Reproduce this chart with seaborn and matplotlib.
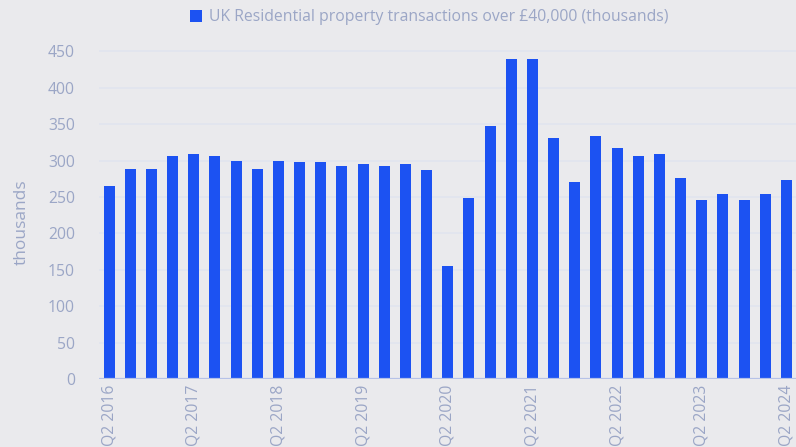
import matplotlib
matplotlib.use("Agg")
import matplotlib.pyplot as plt
import seaborn as sns

quarters = [
    "Q2 2016", "Q3 2016", "Q4 2016", "Q1 2017",
    "Q2 2017", "Q3 2017", "Q4 2017", "Q1 2018",
    "Q2 2018", "Q3 2018", "Q4 2018", "Q1 2019",
    "Q2 2019", "Q3 2019", "Q4 2019", "Q1 2020",
    "Q2 2020", "Q3 2020", "Q4 2020", "Q1 2021",
    "Q2 2021", "Q3 2021", "Q4 2021", "Q1 2022",
    "Q2 2022", "Q3 2022", "Q4 2022", "Q1 2023",
    "Q2 2023", "Q3 2023", "Q4 2023", "Q1 2024",
    "Q2 2024",
]
transactions = [
    265, 289, 289, 306,
    309, 306, 300, 289,
    300, 298, 298, 292,
    295, 292, 295, 287,
    155, 248, 347, 440,
    440, 331, 270, 333,
    317, 306, 309, 276,
    246, 254, 246, 254,
    273,
]
y_ticks = [0, 50, 100, 150, 200, 250, 300, 350, 400, 450]

bg = "#eaeaed"
bar_color = "#1c52f2"
text_color = "#9ba6c6"
grid_color = "#e1e4ef"

sns.set_theme(style="white")
plt.rcParams["font.family"] = ["Open Sans", "DejaVu Sans"]

fig = plt.figure(figsize=(7.96, 4.47), dpi=100, facecolor=bg)
ax = fig.add_axes([0.1238, 0.152, 0.8775, 0.7497])
ax.set_facecolor(bg)

sns.barplot(x=quarters, y=transactions, color=bar_color, width=0.52,
            saturation=1, linewidth=0, ax=ax, zorder=2,
            label="UK Residential property transactions over £40,000 (thousands)")

ax.set_ylim(0, 460)
ax.set_xlim(-0.5, len(quarters) - 0.5)
ax.set_yticks(y_ticks)
ax.set_yticklabels([str(t) for t in y_ticks], color=text_color, fontsize=11.3)
ax.yaxis.grid(True, color=grid_color, linewidth=1.2, zorder=0)
ax.set_axisbelow(True)
ax.axhline(0, color="#b6c2e8", linewidth=1.6, zorder=3)

shown = [i for i, q in enumerate(quarters) if q.startswith("Q2")]
ax.set_xticks(shown)
ax.set_xticklabels([quarters[i] for i in shown], rotation=90,
                   color=text_color, fontsize=11.3)
ax.tick_params(axis="both", length=0, pad=4)
ax.tick_params(axis="y", pad=17)

ax.set_ylabel("thousands", color=text_color, fontsize=12.5)
ax.yaxis.set_label_coords(-0.098, 0.469)
ax.set_xlabel("")
sns.despine(ax=ax, left=True, bottom=True)

leg = ax.legend(loc="center", bbox_to_anchor=(0.539, 0.962),
                bbox_transform=fig.transFigure, frameon=False,
                fontsize=11.3, handlelength=0.8, handleheight=0.8,
                handletextpad=0.4)
for t in leg.get_texts():
    t.set_color(text_color)

fig.savefig("out.png", dpi=100, facecolor=bg)
